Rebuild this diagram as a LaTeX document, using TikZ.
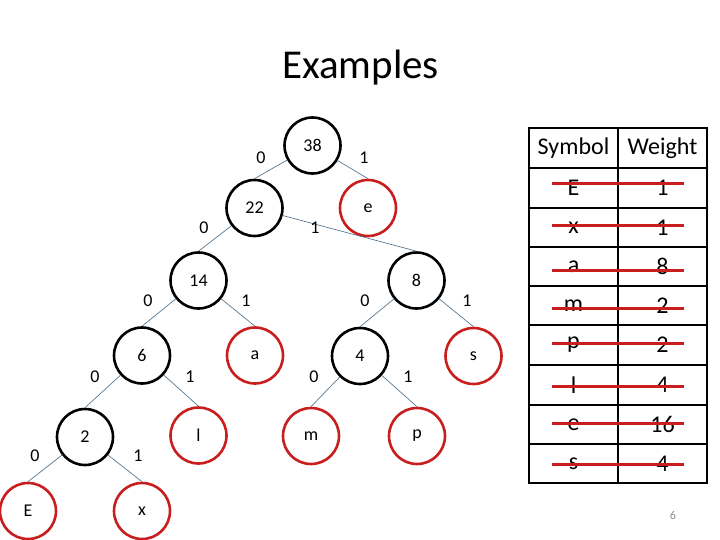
\documentclass[tikz,border=0pt]{standalone}
\usepackage{fontspec}
\setmainfont{Carlito}
\definecolor{leafred}{RGB}{200,30,30}
\definecolor{edgeblue}{RGB}{90,120,145}
\definecolor{numgray}{RGB}{140,140,140}
\begin{document}
\begin{tikzpicture}[x=1pt,y=-1pt,
  inner/.style={circle,draw=black,line width=2.6pt,minimum size=56pt,inner sep=0pt,font=\fontsize{18}{20}\selectfont},
  leaf/.style={circle,draw=leafred,line width=2.6pt,minimum size=56pt,inner sep=0pt,font=\fontsize{18}{20}\selectfont},
  edge/.style={draw=edgeblue,line width=0.7pt},
  bit/.style={font=\fontsize{18}{20}\selectfont,inner sep=0pt},
  cell/.style={font=\fontsize{24}{26}\selectfont,inner sep=0pt},
  strike/.style={draw=leafred,line width=3pt},
  grid/.style={draw=black,line width=1.6pt}]
\useasboundingbox (0,0) rectangle (720,540);
% title
\node[font=\fontsize{41}{44}\selectfont,anchor=base] (title) at (360.5,79) {Examples};
% tree nodes
\node[inner] (n38) at (312.5,145.5) {38};
\node[inner] (n22) at (254.5,208) {22};
\node[leaf]  (ne)  at (368,208) {e};
\node[inner] (n14) at (198.5,280.5) {14};
\node[inner] (n8)  at (416.5,280.5) {8};
\node[inner] (n6)  at (142,355.5) {6};
\node[leaf]  (na)  at (255,355.5) {a};
\node[inner] (n4)  at (360,356) {4};
\node[leaf]  (ns)  at (473.5,356) {s};
\node[inner] (n2)  at (85,437) {2};
\node[leaf]  (nl)  at (198.5,435.5) {l};
\node[leaf]  (nm)  at (311,436) {m};
\node[leaf]  (np)  at (417,436) {p};
\node[leaf]  (nE)  at (28,511) {E};
\node[leaf]  (nx)  at (142,511) {x};
% edges
\draw[edge] (n38) -- (n22.north);
\draw[edge] (n38) -- (ne.north);
\draw[edge] (n22) -- (n14.north);
\draw[edge] (n22) -- (n8.north);
\draw[edge] (n14) -- (n6.north);
\draw[edge] (n14) -- (na.north);
\draw[edge] (n8) -- (n4.north);
\draw[edge] (n8) -- (ns.north);
\draw[edge] (n6) -- (n2.north);
\draw[edge] (n6) -- (nl.north);
\draw[edge] (n4) -- (nm.north);
\draw[edge] (n4) -- (np.north);
\draw[edge] (n2) -- (nE.north);
\draw[edge] (n2) -- (nx.north);
% bit labels
\node[bit] (b1) at (261,158) {0};
\node[bit] (b2) at (364,158) {1};
\node[bit] (b3) at (204,228) {0};
\node[bit] (b4) at (315,228) {1};
\node[bit] (b5) at (148,301) {0};
\node[bit] (b6) at (246,301) {1};
\node[bit] (b7) at (365,301) {0};
\node[bit] (b8) at (467,301) {1};
\node[bit] (b9) at (95,377) {0};
\node[bit] (b10) at (190,377) {1};
\node[bit] (b11) at (314,377) {0};
\node[bit] (b12) at (408,377) {1};
\node[bit] (b13) at (35,456) {0};
\node[bit] (b14) at (138,456) {1};
% table grid
\draw[grid] (529,128) rectangle (707,483);
\draw[grid] (618,128) -- (618,483);
\foreach \yy in {168,208,247,286,325,365,405,444}
  \draw[grid] (529,\yy) -- (707,\yy);
% table text
\node[cell] (hs) at (573.5,148) {Symbol};
\node[cell] (hw) at (662.5,148) {Weight};
\foreach \s/\w/\yc [count=\i] in {E/1/188,x/1/227.5,a/8/266.5,m/2/305.5,p/2/345,l/4/385,e/16/424.5,s/4/463.5}{
  \node[cell] (s\i) at (573.5,\yc) {\s};
  \node[cell] (w\i) at (662.5,\yc) {\w};
}
\foreach \yy in {184,226,270,308,343,386,423,464}
  \draw[strike] (552,\yy) -- (684,\yy);
% slide number
\node[font=\fontsize{12}{14}\selectfont,text=numgray] (pg) at (673,515) {6};
\end{tikzpicture}
\end{document}
